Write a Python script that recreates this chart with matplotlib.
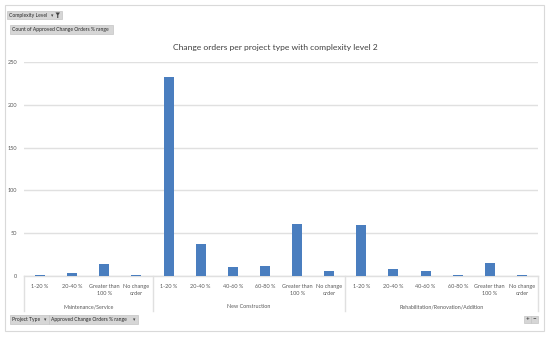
import numpy as np
import matplotlib
matplotlib.use("Agg")
import matplotlib.pyplot as plt
from matplotlib.patches import Rectangle, Polygon
from matplotlib.transforms import blended_transform_factory

# ---------- data ----------
groups = ["Maintenance/Service", "New Construction", "Rehabilitation/Renovation/Addition"]
group_ranges = [
    ["1-20 %", "20-40 %", "Greater than\n100 %", "No change\norder"],
    ["1-20 %", "20-40 %", "40-60 %", "60-80 %", "Greater than\n100 %", "No change\norder"],
    ["1-20 %", "20-40 %", "40-60 %", "60-80 %", "Greater than\n100 %", "No change\norder"],
]
maintenance_counts = [1, 4, 14, 1]
new_construction_counts = [233, 37, 10, 12, 61, 6]
rehab_counts = [59, 8, 6, 1, 15, 1]
y_ticks = [0, 50, 100, 150, 200, 250]

title = "Change orders per project type with complexity level 2"
bar_color = "#4A7EBF"
grid_color = "#E0E0E0"
text_color = "#595959"

W, H = 550, 338
plt.rcParams["font.family"] = ["Lato", "DejaVu Sans"]
fs_button = 3.6
fs_tick = 4.0


def fx(px):
    return px / W


def fy(py):
    return 1 - py / H


def button(fig, x0, y0, x1, y1, label, arrow=True, fs=fs_button, ha="left"):
    fig.patches.append(Rectangle((fx(x0), fy(y1)), fx(x1) - fx(x0), fy(y0) - fy(y1),
                                 transform=fig.transFigure, facecolor="#D6D6D6",
                                 edgecolor="#C4C4C4", linewidth=0.5))
    tx = x0 + 2 if ha == "left" else (x0 + x1) / 2
    fig.text(fx(tx), fy((y0 + y1) / 2), label, fontsize=fs, color="#262626",
             ha=ha, va="center")
    if arrow:
        fig.text(fx(x1 - 4), fy((y0 + y1) / 2 - 0.3), "\u25be", fontsize=3.4,
                 color="#404040", ha="center", va="center", family="DejaVu Sans")


values = maintenance_counts + new_construction_counts + rehab_counts
labels = [lab for grp in group_ranges for lab in grp]
x = np.arange(len(values))

fig = plt.figure(figsize=(W / 100, H / 100), dpi=100)
fig.patch.set_facecolor("white")

# outer chart border
fig.patches.append(Rectangle((fx(5), fy(331)), fx(544) - fx(5), fy(5) - fy(331),
                             transform=fig.transFigure, facecolor="none",
                             edgecolor="#D9D9D9", linewidth=0.8))

ax = fig.add_axes([fx(24), fy(276), fx(538) - fx(24), fy(62) - fy(276)])
ax.bar(x, values, width=0.31, color=bar_color, zorder=3)
ax.set_xlim(-0.5, len(values) - 0.5)
ax.set_ylim(0, 250)
ax.set_yticks(y_ticks)
ax.yaxis.grid(True, color=grid_color, linewidth=1.0, zorder=0)
ax.set_axisbelow(True)
for s in ["left", "right", "top"]:
    ax.spines[s].set_visible(False)
ax.spines["bottom"].set_color(grid_color)
ax.spines["bottom"].set_linewidth(1.0)
ax.tick_params(axis="y", length=0, pad=5, labelsize=fs_tick, labelcolor=text_color)
ax.set_xticks(x)
ax.set_xticklabels(labels, fontsize=fs_tick, color=text_color, linespacing=1.7)
ax.tick_params(axis="x", length=0, pad=5.5)

# group labels and separators under the category axis
tr = blended_transform_factory(ax.transData, ax.transAxes)
px_per_axes = 276 - 62
start = 0
bounds = [-0.5]
for name, grp in zip(groups, group_ranges):
    mid = start + (len(grp) - 1) / 2
    ax.text(mid, -(307 - 276) / px_per_axes, name, transform=tr, fontsize=3.9,
            color=text_color, ha="center", va="center")
    start += len(grp)
    bounds.append(start - 0.5)
for b in bounds:
    ax.plot([b, b], [0, -(311 - 276) / px_per_axes], transform=tr, color=grid_color,
            linewidth=1.0, clip_on=False)

fig.text(0.5, fy(47.5), title, fontsize=6.1, color="#404040", ha="center", va="center")

# pivot field buttons
button(fig, 7, 11, 62, 19, "Complexity Level", arrow=False)
fig.text(fx(52.5), fy(15.3), "\u25be", fontsize=3.4, color="#404040", ha="center",
         va="center", family="DejaVu Sans")
fig.patches.append(Polygon([(fx(55.5), fy(12.5)), (fx(60), fy(12.5)), (fx(58.3), fy(15)),
                            (fx(58.3), fy(18)), (fx(57.2), fy(18)), (fx(57.2), fy(15))],
                           closed=True, transform=fig.transFigure, facecolor="#404040",
                           edgecolor="none"))
button(fig, 10, 25, 113, 34, "Count of Approved Change Orders % range", arrow=False)
button(fig, 10, 315, 49, 324, "Project Type")
button(fig, 49, 315, 138, 324, "Approved Change Orders % range")
button(fig, 524, 316, 531, 323, "+", arrow=False, fs=4.5, ha="center")
button(fig, 531, 316, 538, 323, "\u2212", arrow=False, fs=4.5, ha="center")

fig.savefig("out.png", dpi=100)
